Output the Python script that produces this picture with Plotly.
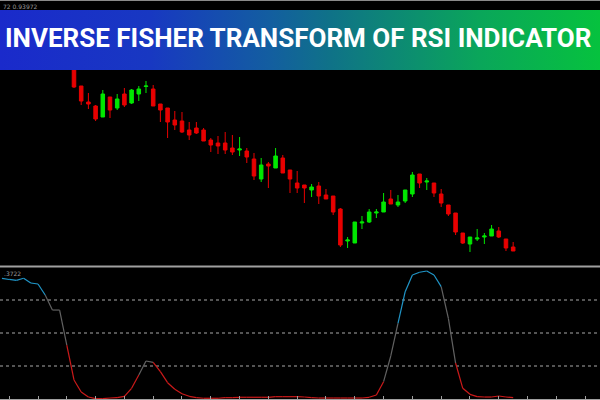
import base64
import plotly.graph_objects as go

# ---------------- data ----------------
candle_idx = list(range(10, 72))
opens = [0.94076, 0.94028, 0.93996, 0.93988, 0.93966, 0.94006, 0.93984, 0.94012, 0.93994, 0.94012,
         0.94027, 0.94022, 0.93992, 0.93984, 0.93960, 0.93958, 0.93940, 0.93944, 0.93940, 0.93920,
         0.93914, 0.93914, 0.93904, 0.93900, 0.93898, 0.93882, 0.93842, 0.93872, 0.93864, 0.93884,
         0.93860, 0.93834, 0.93830, 0.93820, 0.93828, 0.93810, 0.93808, 0.93782, 0.93718, 0.93714,
         0.93754, 0.93756, 0.93774, 0.93776, 0.93802, 0.93790, 0.93798, 0.93812, 0.93852, 0.93836,
         0.93834, 0.93812, 0.93790, 0.93774, 0.93734, 0.93712, 0.93722, 0.93726, 0.93728, 0.93738,
         0.93722, 0.93706]
highs = [0.94090, 0.94028, 0.94014, 0.93990, 0.94020, 0.94006, 0.94012, 0.94024, 0.94022, 0.94028,
         0.94038, 0.94030, 0.93992, 0.93984, 0.93978, 0.93976, 0.93956, 0.93956, 0.93944, 0.93924,
         0.93928, 0.93936, 0.93930, 0.93926, 0.93904, 0.93894, 0.93884, 0.93876, 0.93904, 0.93890,
         0.93860, 0.93858, 0.93830, 0.93832, 0.93836, 0.93822, 0.93808, 0.93784, 0.93726, 0.93756,
         0.93768, 0.93782, 0.93782, 0.93814, 0.93820, 0.93810, 0.93820, 0.93856, 0.93852, 0.93844,
         0.93834, 0.93822, 0.93790, 0.93774, 0.93734, 0.93726, 0.93742, 0.93734, 0.93750, 0.93746,
         0.93722, 0.93716]
lows = [0.94024, 0.93990, 0.93982, 0.93958, 0.93966, 0.93964, 0.93980, 0.93986, 0.93992, 0.93998,
        0.94014, 0.93988, 0.93956, 0.93924, 0.93940, 0.93934, 0.93920, 0.93932, 0.93918, 0.93896,
        0.93892, 0.93892, 0.93890, 0.93888, 0.93874, 0.93840, 0.93836, 0.93824, 0.93864, 0.93854,
        0.93814, 0.93814, 0.93794, 0.93806, 0.93792, 0.93802, 0.93770, 0.93706, 0.93704, 0.93714,
        0.93742, 0.93754, 0.93764, 0.93776, 0.93792, 0.93786, 0.93794, 0.93806, 0.93824, 0.93820,
        0.93806, 0.93786, 0.93768, 0.93730, 0.93712, 0.93696, 0.93718, 0.93712, 0.93728, 0.93724,
        0.93698, 0.93698]
closes = [0.94026, 0.93998, 0.93992, 0.93962, 0.94012, 0.93980, 0.94002, 0.93990, 0.94020, 0.94022,
          0.94028, 0.93988, 0.93980, 0.93956, 0.93950, 0.93936, 0.93930, 0.93934, 0.93918, 0.93910,
          0.93908, 0.93900, 0.93896, 0.93902, 0.93886, 0.93848, 0.93870, 0.93868, 0.93888, 0.93854,
          0.93842, 0.93824, 0.93824, 0.93826, 0.93808, 0.93802, 0.93776, 0.93710, 0.93720, 0.93756,
          0.93756, 0.93776, 0.93776, 0.93796, 0.93792, 0.93796, 0.93820, 0.93850, 0.93834, 0.93838,
          0.93814, 0.93794, 0.93772, 0.93736, 0.93714, 0.93726, 0.93724, 0.93728, 0.93742, 0.93726,
          0.93704, 0.93698]

ift_idx = list(range(0, 72))
ift_values = [0.829, 0.811, 0.798, 0.829, 0.758, 0.742, 0.576, 0.348, 0.348, -0.182,
              -0.712, -0.894, -0.970, -0.995, -0.995, -0.985, -0.980, -0.959, -0.838, -0.636,
              -0.424, -0.444, -0.586, -0.753, -0.853, -0.920, -0.959, -0.980, -0.989, -0.989,
              -0.989, -0.980, -0.980, -0.974, -0.974, -0.974, -0.974, -0.974, -0.965, -0.965,
              -0.965, -0.965, -0.970, -0.980, -0.985, -0.985, -0.985, -0.985, -0.985, -0.985,
              -0.985, -0.974, -0.939, -0.738, -0.348, 0.147, 0.626, 0.879, 0.920, 0.939,
              0.879, 0.702, 0.223, -0.455, -0.838, -0.929, -0.965, -0.970, -0.970, -0.955,
              -0.970, -0.980]
levels = [0.5, 0.0, -0.5]

title_text = "INVERSE FISHER TRANSFORM OF RSI INDICATOR"
top_info = "72 0.93972"
ind_info = ".3722"

# ---------------- figure ----------------
fig = go.Figure()

fig.add_trace(go.Candlestick(
    x=candle_idx, open=opens, high=highs, low=lows, close=closes,
    increasing=dict(line=dict(color="#00e800", width=1), fillcolor="#00e800"),
    decreasing=dict(line=dict(color="#e80000", width=1), fillcolor="#e80000"),
    whiskerwidth=0, hoverinfo="skip", showlegend=False,
    xaxis="x", yaxis="y",
))

# colored segments of the indicator line
colors = {"blue": "#2096c8", "gray": "#626262", "red": "#cc1a1a"}
segs = {k: ([], []) for k in colors}
for i in range(1, len(ift_values)):
    v = ift_values[i]
    c = "blue" if v > 0.5 else ("red" if v < -0.5 else "gray")
    segs[c][0].extend([ift_idx[i - 1], ift_idx[i], None])
    segs[c][1].extend([ift_values[i - 1], v, None])
for c, (xs, ys) in segs.items():
    fig.add_trace(go.Scatter(x=xs, y=ys, mode="lines",
                             line=dict(color=colors[c], width=1.2),
                             connectgaps=False, hoverinfo="skip", showlegend=False,
                             xaxis="x2", yaxis="y2"))

shapes = []
for lv in levels:
    shapes.append(dict(type="line", xref="paper", x0=0, x1=1, yref="y2", y0=lv, y1=lv,
                       line=dict(color="#a8a8a8", width=1, dash="dot"), layer="below"))
# separator between panels and window borders
shapes.append(dict(type="line", xref="paper", x0=0, x1=1, yref="paper", y0=1 - 266.5 / 400, y1=1 - 266.5 / 400,
                   line=dict(color="#a0a0a0", width=2)))
shapes.append(dict(type="line", xref="paper", x0=0, x1=1, yref="paper", y0=1 - 0.5 / 400, y1=1 - 0.5 / 400,
                   line=dict(color="#8a8a8a", width=1)))

svg = ('<svg xmlns="http://www.w3.org/2000/svg" width="600" height="60" preserveAspectRatio="none">'
       '<defs><linearGradient id="g" x1="0" y1="0" x2="1" y2="0">'
       '<stop offset="0" stop-color="#1a2acb"/>'
       '<stop offset="0.25" stop-color="#1838c2"/>'
       '<stop offset="0.45" stop-color="#135ea0"/>'
       '<stop offset="0.55" stop-color="#0f7288"/>'
       '<stop offset="0.8" stop-color="#0aa65a"/>'
       '<stop offset="1" stop-color="#06c23e"/>'
       '</linearGradient></defs><rect width="600" height="60" fill="url(#g)"/></svg>')
src = "data:image/svg+xml;base64," + base64.b64encode(svg.encode()).decode()

fig.update_layout(
    width=600, height=400,
    margin=dict(l=0, r=0, t=0, b=0),
    paper_bgcolor="black", plot_bgcolor="black",
    showlegend=False,
    hovermode=False,
    xaxis=dict(domain=[0, 1], range=[-0.278, 83.06], anchor="y", visible=False,
               rangeslider=dict(visible=False), fixedrange=True),
    yaxis=dict(domain=[1 - 266 / 400, 1], range=[0.93668, 0.94200], anchor="x", visible=False),
    xaxis2=dict(domain=[0, 1], range=[-0.278, 83.06], anchor="y2", showgrid=False, zeroline=False,
                showline=True, linecolor="#a0a0a0", linewidth=1, ticks="inside", ticklen=3,
                tickcolor="#a0a0a0", tick0=1, dtick=4, showticklabels=False),
    yaxis2=dict(domain=[1 / 400, 133 / 400], range=[-1, 1], anchor="x2", visible=False),
    shapes=shapes,
    images=[dict(source=src, xref="paper", yref="paper", x=0, y=1 - 10 / 400,
                 sizex=1, sizey=60 / 400, xanchor="left", yanchor="top",
                 sizing="stretch", layer="above")],
    annotations=[
        dict(text="<b>" + title_text + "</b>", xref="paper", yref="paper", x=0.497, y=1 - 38 / 400,
             xanchor="center", yanchor="middle", showarrow=False,
             font=dict(family="Roboto", size=26, color="white")),
        dict(text=top_info, xref="paper", yref="paper", x=0.002, y=1 - 1 / 400,
             xanchor="left", yanchor="top", showarrow=False,
             font=dict(family="DejaVu Sans", size=6, color="#9a9a9a")),
        dict(text=ind_info, xref="paper", yref="paper", x=0.004, y=1 - 268 / 400,
             xanchor="left", yanchor="top", showarrow=False,
             font=dict(family="DejaVu Sans", size=6, color="#9a9a9a")),
    ],
)

fig.write_html("out.html", config={"displayModeBar": False, "staticPlot": True},
               post_script="document.body.style.margin='0';document.body.style.padding='0';"
                           "document.body.style.overflow='hidden';")
